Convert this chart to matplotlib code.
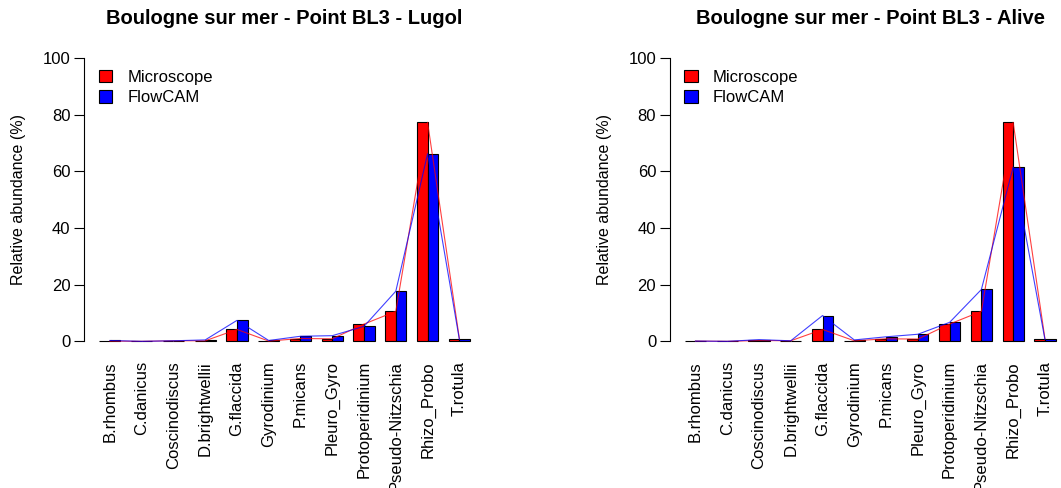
import matplotlib.pyplot as plt
import numpy as np

plt.rcParams['font.family'] = ['Liberation Sans', 'DejaVu Sans']

taxa = ['B.rhombus', 'C.danicus', 'Coscinodiscus', 'D.brightwellii', 'G.flaccida',
        'Gyrodinium', 'P.micans', 'Pleuro_Gyro', 'Protoperidinium', 'Pseudo-Nitzschia',
        'Rhizo_Probo', 'T.rotula']

lugol_micro = [0.1, 0.0, 0.2, 0.2, 4.2, 0.1, 1.0, 0.9, 6.1, 10.6, 77.3, 1.0]
lugol_flow = [0.3, 0.0, 0.2, 0.5, 7.4, 0.3, 1.8, 2.0, 5.3, 17.7, 66.2, 0.7]
alive_micro = [0.1, 0.0, 0.3, 0.2, 4.2, 0.2, 0.9, 0.8, 6.1, 10.6, 77.3, 1.0]
alive_flow = [0.1, 0.0, 0.6, 0.2, 9.1, 0.5, 1.6, 2.5, 6.7, 18.3, 61.5, 0.7]

panels = [
    ('Boulogne sur mer - Point BL3 - Lugol', lugol_micro, lugol_flow, 0.0796),
    ('Boulogne sur mer - Point BL3 - Alive', alive_micro, alive_flow, 0.6315),
]

fig = plt.figure(figsize=(10.61, 4.88), dpi=100)

for title, micro, flow, left in panels:
    ax = fig.add_axes([left, 0.2773, 0.3773, 0.627])
    n = len(taxa)
    centers = 2 + 3 * np.arange(n)
    ax.bar(centers - 0.5, micro, width=1, color='red', edgecolor='black', linewidth=0.8,
           label='Microscope')
    ax.bar(centers + 0.5, flow, width=1, color='blue', edgecolor='black', linewidth=0.8,
           label='FlowCAM')
    ax.plot(centers, micro, color='red', linewidth=0.8, alpha=0.75)
    ax.plot(centers, flow, color='blue', linewidth=0.8, alpha=0.75)

    ax.set_xlim(1 - 0.04 * 35, 36 + 0.04 * 35)
    ax.set_ylim(-4, 104)
    for s in ['top', 'right', 'bottom']:
        ax.spines[s].set_visible(False)
    ax.spines['left'].set_bounds(0, 100)
    ax.set_yticks([0, 20, 40, 60, 80, 100])
    ax.tick_params(axis='y', length=7, labelsize=12, pad=3)
    ax.set_xticks(centers)
    ax.set_xticklabels(taxa, rotation=90, fontsize=12)
    ax.tick_params(axis='x', length=0, pad=6)
    ax.set_ylabel('Relative abundance (%)', fontsize=11.5, labelpad=12)
    ax.set_title(title, fontsize=14.5, fontweight='bold', pad=16)
    ax.legend(loc='upper left', bbox_to_anchor=(0.036, 0.925), frameon=False, fontsize=12,
              borderpad=0, borderaxespad=0,
              handlelength=0.8, handleheight=0.8, handletextpad=0.9, labelspacing=0.3)

fig.savefig('out.png', dpi=100)
